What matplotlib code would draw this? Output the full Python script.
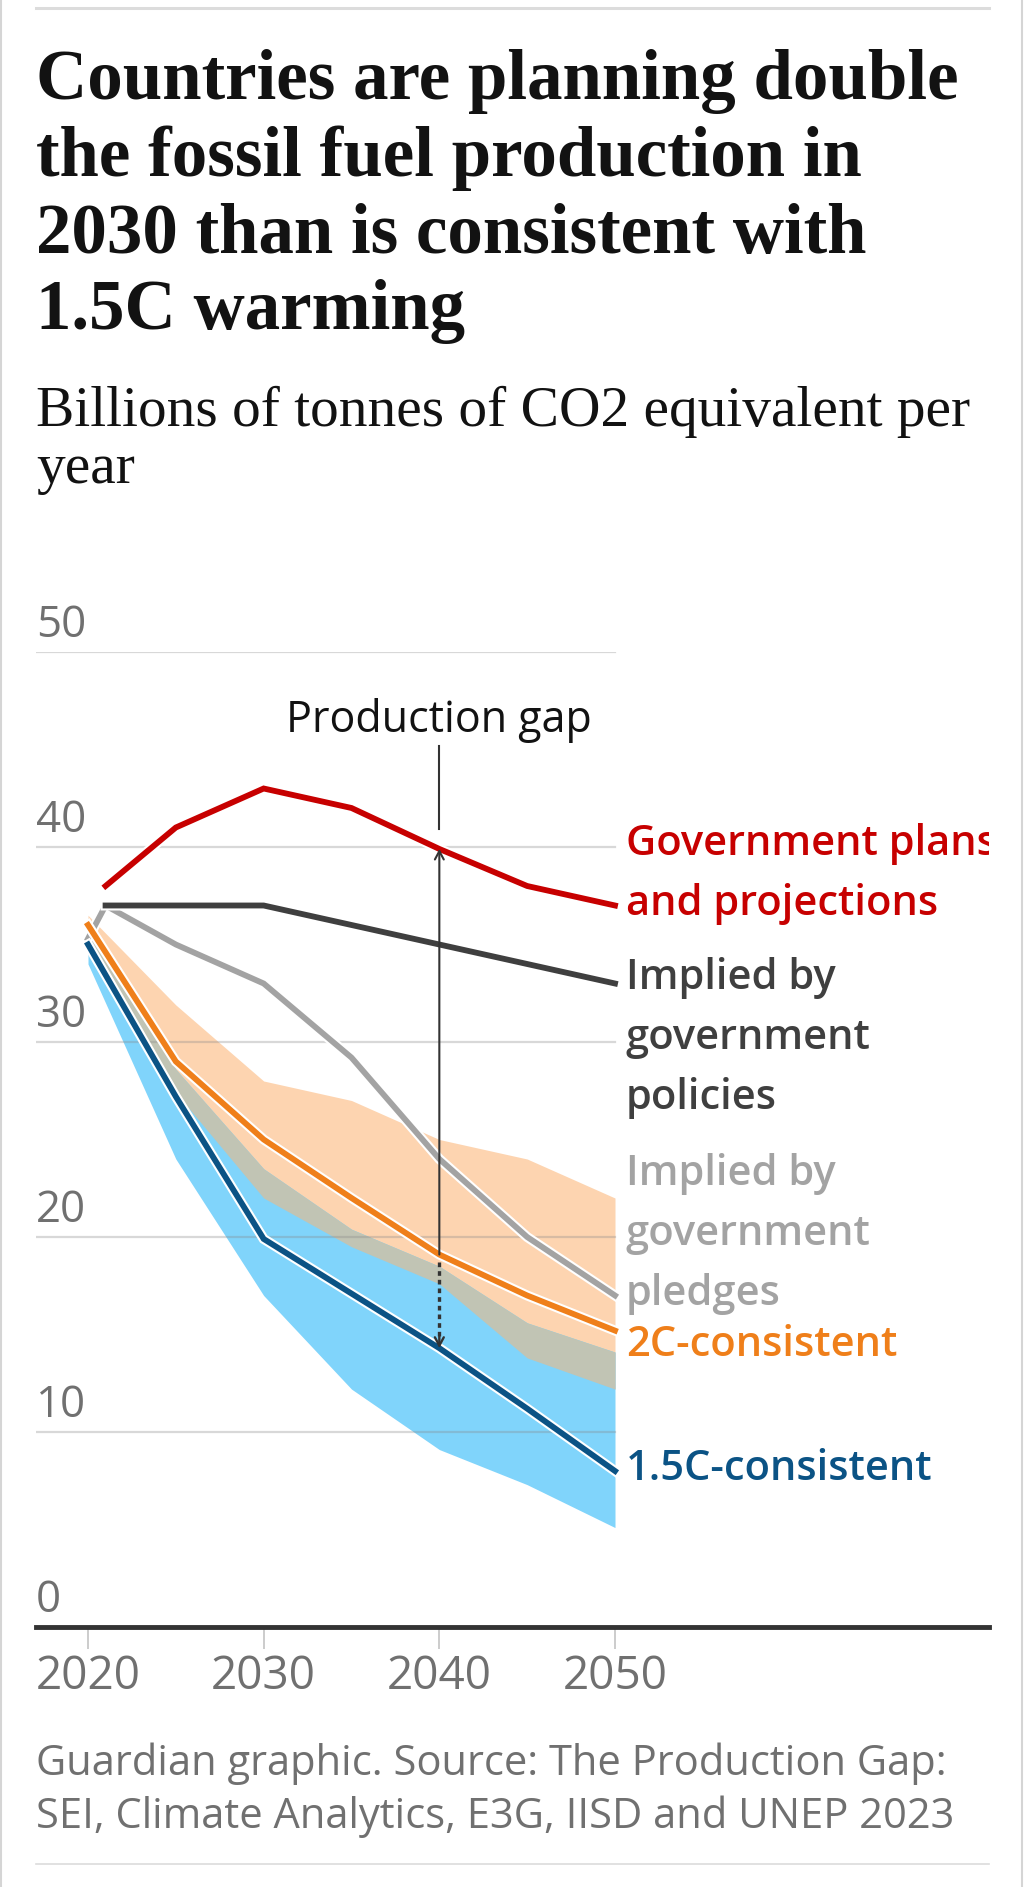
import matplotlib
matplotlib.use("Agg")
import matplotlib.pyplot as plt
import matplotlib.patheffects as pe
from matplotlib.lines import Line2D
import numpy as np

plt.rcParams['font.family'] = ['Open Sans', 'DejaVu Sans']

# Billions of tonnes of CO2 equivalent per year
plans_years = [2021, 2025, 2030, 2035, 2040, 2045, 2050]
plans = [38.0, 41.0, 43.0, 42.0, 39.9, 38.0, 37.0]

policies_years = [2021, 2030, 2035, 2040, 2045, 2050]
policies = [37.0, 37.0, 36.0, 35.0, 34.0, 33.0]

pledges_years = [2020, 2021, 2025, 2030, 2035, 2040, 2045, 2050]
pledges = [35.3, 37.0, 35.0, 33.0, 29.2, 24.0, 20.0, 17.0]

years = [2020, 2025, 2030, 2035, 2040, 2045, 2050]
c2 = [36.0, 29.0, 25.0, 22.0, 19.1, 17.0, 15.2]
c15 = [35.0, 27.2, 19.9, 17.1, 14.3, 11.2, 8.0]
c2_high = [36.5, 31.9, 28.0, 27.0, 25.0, 24.0, 22.0]
c2_low = [35.5, 27.4, 22.0, 19.5, 17.6, 13.8, 12.2]
c15_high = [36.0, 28.6, 23.5, 20.4, 18.5, 15.6, 14.1]
c15_low = [34.0, 24.0, 17.0, 12.2, 9.1, 7.3, 5.1]

gap_year = 2040
gap_top, gap_plans, gap_2c, gap_15c = 45.2, 39.9, 19.1, 14.3

yticks = [0, 10, 20, 30, 40, 50]
xticks = [2020, 2030, 2040, 2050]

title_lines = ["Countries are planning double",
               "the fossil fuel production in",
               "2030 than is consistent with",
               "1.5C warming"]
subtitle_lines = ["Billions of tonnes of CO2 equivalent per", "year"]
source_lines = ["Guardian graphic. Source: The Production Gap:",
                "SEI, Climate Analytics, E3G, IISD and UNEP 2023"]

RED = '#c70000'
DARK = '#3f3f3f'
LIGHT = '#a3a3a3'
ORANGE = '#ef7f1a'
NAVY = '#0b5385'

label_groups = [
    (["Government plans", "and projections"], RED, 39.59),
    (["Implied by", "government", "policies"], DARK, 32.72),
    (["Implied by", "government", "pledges"], LIGHT, 22.67),
    (["2C-consistent"], ORANGE, 13.90),
    (["1.5C-consistent"], NAVY, 7.54),
]

W, H = 1024, 1887
fig = plt.figure(figsize=(W / 100, H / 100), dpi=100)
ax = fig.add_axes([36 / W, 1 - 1627 / H, (989 - 36) / W, (1627 - 652) / H])
px_year = (615 - 88) / 30
x0 = 2020 - (88 - 36) / px_year
x1 = 2050 + (989 - 615) / px_year
ax.set_xlim(x0, x1)
ax.set_ylim(0, 50)
for s in ['top', 'left', 'right']:
    ax.spines[s].set_visible(False)
ax.spines['bottom'].set_color('#333333')
ax.spines['bottom'].set_linewidth(3.5)
ax.spines['bottom'].set_zorder(8)
ax.set_yticks([])
ax.set_xticks(xticks)
ax.set_xticklabels([str(x) for x in xticks])
ax.tick_params(axis='x', length=16, width=1.4, color='#cccccc', pad=3.5,
               labelsize=33, labelcolor='#707070')

# bands
ax.fill_between(years, c2_low, c2_high, color='#fdd4b0', lw=0, zorder=1)
ax.fill_between(years, c15_low, c15_high, color='#80d4fb', lw=0, zorder=1.1)
lo = np.maximum(c2_low, c15_low)
hi = np.minimum(c2_high, c15_high)
ax.fill_between(years, lo, hi, where=hi > lo, interpolate=True,
                color='#c1c4b4', lw=0, zorder=1.2)

# grid
for v in yticks[1:]:
    ax.plot([x0, 2050], [v, v], color='#888888', alpha=0.32, lw=1.6, zorder=2)
for v in yticks:
    ax.text(x0, v + 0.75, str(v), ha='left', va='baseline', fontsize=31.5,
            color='#707070', clip_on=False)


def halo(lw):
    return [pe.Stroke(linewidth=lw + 3, foreground='white'), pe.Normal()]


lw = 4.2
ax.plot(pledges_years, pledges, color=LIGHT, lw=lw, zorder=4,
        path_effects=halo(lw), solid_joinstyle='miter')
ax.plot(policies_years, policies, color=DARK, lw=lw, zorder=4.1,
        path_effects=halo(lw), solid_joinstyle='miter')
ax.plot(plans_years, plans, color=RED, lw=lw, zorder=4.2,
        path_effects=halo(lw), solid_joinstyle='miter')
ax.plot(years, c2, color=ORANGE, lw=lw, zorder=4.3,
        path_effects=halo(lw), solid_joinstyle='miter')
ax.plot(years, c15, color=NAVY, lw=lw, zorder=4.4,
        path_effects=halo(lw), solid_joinstyle='miter')

# production gap annotation
ax.plot([gap_year, gap_year], [gap_top, gap_plans + 1.0], color='#333333',
        lw=1.5, zorder=6)
ax.annotate('', xy=(gap_year, gap_plans), xytext=(gap_year, gap_2c),
            arrowprops=dict(arrowstyle='->,head_length=0.6,head_width=0.32',
                            color='#333333', lw=1.5, shrinkA=0, shrinkB=0),
            zorder=6)
ax.plot([gap_year, gap_year], [gap_2c - 0.4, gap_15c + 0.5], color='#333333',
        lw=2.4, ls=(0, (1.4, 1.2)), zorder=6)
ax.annotate('', xy=(gap_year, gap_15c), xytext=(gap_year, gap_15c + 0.6),
            arrowprops=dict(arrowstyle='->,head_length=0.6,head_width=0.32',
                            color='#333333', lw=1.7, shrinkA=0, shrinkB=0),
            zorder=6)
ax.text(gap_year, 45.9, "Production gap", ha='center', va='baseline',
        fontsize=31, color='#121212')

# right-hand labels
lab_x = 2050 + (626 - 615) / px_year
pitch = 60 / 19.5
for lines, col, first in label_groups:
    for i, t in enumerate(lines):
        ax.text(lab_x, first - i * pitch, t, ha='left', va='baseline',
                fontsize=30, fontweight='semibold', color=col, clip_on=True)

# title, subtitle, source
for t, b in zip(title_lines, [99, 176, 253, 329]):
    fig.text(36 / W, 1 - b / H, t, fontsize=51, fontweight='bold',
             family='Liberation Serif', color='#121212', va='baseline')
for t, b in zip(subtitle_lines, [426, 483]):
    fig.text(36 / W, 1 - b / H, t, fontsize=41.3, family='Liberation Serif',
             color='#121212', va='baseline')
for t, b in zip(source_lines, [1775, 1828]):
    fig.text(36 / W, 1 - b / H, t, fontsize=30, color='#707070', va='baseline')

# rules and frame
fig.add_artist(Line2D([36 / W, 989 / W], [1 - 8 / H] * 2, color='#dcdcdc', lw=2.2))
fig.add_artist(Line2D([36 / W, 989 / W], [1 - 1864 / H] * 2, color='#dcdcdc', lw=1.2))
fig.add_artist(Line2D([1 / W, 1 / W], [0, 1], color='#d5d5d5', lw=1.5))
fig.add_artist(Line2D([1021.5 / W, 1021.5 / W], [0, 1], color='#d5d5d5', lw=1.5))

fig.savefig('out.png', dpi=100, facecolor='white')
